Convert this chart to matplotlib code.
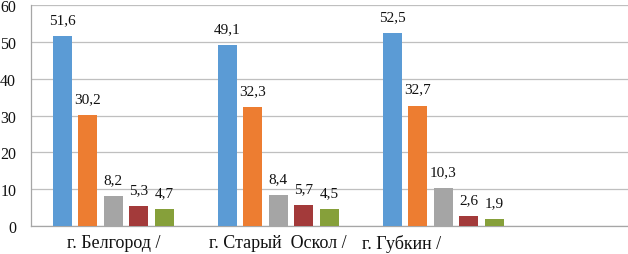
import numpy as np
import matplotlib.pyplot as plt

plt.rcParams['font.family'] = ['Liberation Serif', 'DejaVu Serif']

cities = ['г. Белгород /', 'г. Старый  Оскол /', 'г. Губкин /', '']
series_1 = [51.6, 49.1, 52.5, np.nan]
series_2 = [30.2, 32.3, 32.7, np.nan]
series_3 = [8.2, 8.4, 10.3, np.nan]
series_4 = [5.3, 5.7, 2.6, np.nan]
series_5 = [4.7, 4.5, 1.9, np.nan]
COLORS = ['#5B9BD5', '#ED7D31', '#A5A5A5', '#A33A3A', '#86A03A']

all_series = [series_1, series_2, series_3, series_4, series_5]
BAR_W = 0.115
STRIDE = 0.155

fig = plt.figure(figsize=(6.28, 2.55), dpi=100)
ax = fig.add_axes([0.049, 0.11, 0.951, 0.866])

x = np.arange(len(cities))
for i, (vals, col) in enumerate(zip(all_series, COLORS)):
    pos = x + (i - 2) * STRIDE
    bars = ax.bar(pos, vals, width=BAR_W, color=col, zorder=3)
    for xp, v in zip(pos, vals):
        if np.isnan(v):
            continue
        ax.text(xp, v + 2.7, f'{v:.1f}'.replace('.', ','), ha='center',
                va='bottom', fontsize=11, color='#111111', zorder=4)

ax.set_ylim(0, 60)
ax.set_yticks(range(0, 61, 10))
ax.set_xlim(-0.5, 3.12)
ax.set_xticks([])
ax.grid(axis='y', color='#BFBFBF', linewidth=0.9, zorder=0)
for s in ['top', 'right']:
    ax.spines[s].set_visible(False)
for s in ['left', 'bottom']:
    ax.spines[s].set_color('#A6A6A6')
    ax.spines[s].set_linewidth(0.9)
ax.tick_params(axis='y', length=0, labelsize=11.5, pad=10.5, colors='#111111')

# category labels (the third one sits left of its group in the original)
shifts = [0.0, 0.0, -0.25, 0.0]
for xi, name, sh in zip(x, cities, shifts):
    ax.text(xi + sh, -2.3, name, ha='center', va='top', fontsize=13,
            color='#111111')

fig.savefig('out.png', dpi=100)
